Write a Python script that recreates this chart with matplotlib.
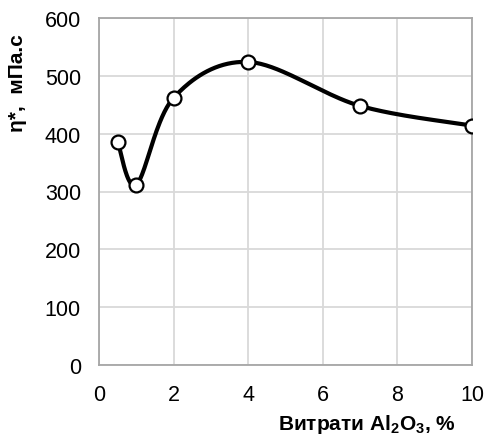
import numpy as np
import matplotlib.pyplot as plt

plt.rcParams['font.family'] = ['Liberation Sans', 'DejaVu Sans']
plt.rcParams['mathtext.fontset'] = 'custom'
plt.rcParams['mathtext.rm'] = 'Liberation Sans:bold'
plt.rcParams['mathtext.bf'] = 'Liberation Sans:bold'

# data
dose = [0.5, 1, 2, 4, 7, 10]
viscosity = [386, 312, 462, 524, 448, 414]
x_ticks = [0, 2, 4, 6, 8, 10]
y_ticks = [0, 100, 200, 300, 400, 500, 600]


def excel_smooth(xs, ys, n=40):
    # Excel-style smoothed line: cubic bezier through the points
    p = np.column_stack([xs, ys]).astype(float)
    p = np.vstack([p[0], p, p[-1]])
    out = []
    for i in range(1, len(p) - 2):
        p0, p1 = p[i], p[i + 1]
        c1 = p0 + (p[i + 1] - p[i - 1]) / 6
        c2 = p1 - (p[i + 2] - p[i]) / 6
        t = np.linspace(0, 1, n)[:, None]
        seg = ((1 - t) ** 3) * p0 + 3 * ((1 - t) ** 2) * t * c1 \
            + 3 * (1 - t) * t ** 2 * c2 + t ** 3 * p1
        out.append(seg)
    out = np.vstack(out)
    return out[:, 0], out[:, 1]


fig = plt.figure(figsize=(4.88, 4.35), dpi=100)
ax = fig.add_axes([99 / 488, 1 - 366 / 435, 373 / 488, 347 / 435])

sx, sy = excel_smooth(dose, viscosity)
ax.plot(sx, sy, color='black', lw=3, zorder=3, solid_capstyle='round')
ax.plot(dose, viscosity, 'o', ms=10, mfc='white', mec='black', mew=1.6, zorder=4)

ax.set_xlim(0, 10)
ax.set_ylim(0, 600)
ax.set_xticks(x_ticks)
ax.set_yticks(y_ticks)
ax.grid(True, color='#d9d9d9', lw=1.3)
ax.set_axisbelow(True)
for s in ax.spines.values():
    s.set_color('#a6a6a6')
    s.set_linewidth(1.3)
ax.tick_params(length=0, labelsize=15.5)
ax.tick_params(axis='x', pad=14)
ax.tick_params(axis='y', pad=13)

fig.text(367 / 488, 1 - 425 / 435, r'Витрати Al$_{2}$O$_{3}$, %',
         ha='center', va='center', fontsize=15, fontweight='bold')
fig.text(18 / 488, 1 - 83 / 435, 'η*,  мПа.с', rotation=90,
         ha='center', va='center', fontsize=15, fontweight='bold')

fig.savefig('out.png', dpi=100)
